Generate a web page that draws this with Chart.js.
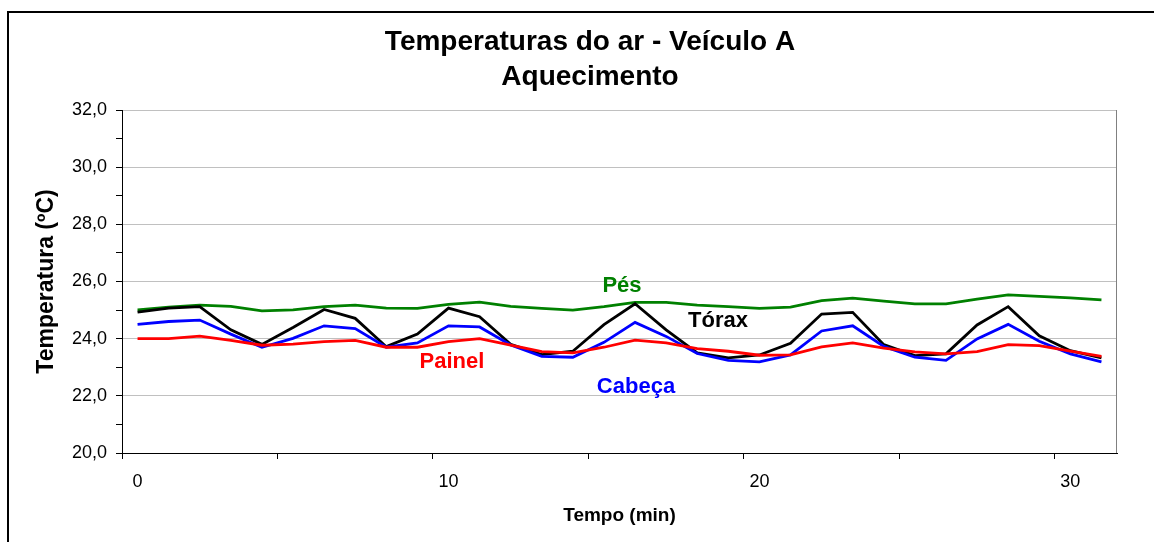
<!DOCTYPE html>
<html lang="pt">
<head>
<meta charset="utf-8">
<title>Temperaturas do ar - Veículo A</title>
<script src="https://cdn.jsdelivr.net/npm/chart.js@4.4.1/dist/chart.umd.min.js"></script>
<style>
  html, body { margin: 0; padding: 0; background: #fff; }
  #caixa { position: relative; width: 1154px; height: 542px; }
</style>
</head>
<body>
<div id="caixa"><canvas id="grafico"></canvas></div>
<script>
// Tempo (min): um ponto por minuto, eixo de categorias como no Excel
var tempos   = [0, 1, 2, 3, 4, 5, 6, 7, 8, 9, 10, 11, 12, 13, 14, 15,
                16, 17, 18, 19, 20, 21, 22, 23, 24, 25, 26, 27, 28, 29, 30, 31];
var rotulosX = [0, 10, 20, 30];
var rotulosY = ["20,0", "22,0", "24,0", "26,0", "28,0", "30,0", "32,0"];

// Temperaturas (ºC)
var painel = [24.00, 24.00, 24.09, 23.94, 23.77, 23.81, 23.90, 23.94, 23.70, 23.70, 23.90,
              24.00, 23.77, 23.55, 23.50, 23.70, 23.95, 23.85, 23.65, 23.56, 23.42,
              23.43, 23.71, 23.85, 23.67, 23.54, 23.47, 23.55, 23.79, 23.76, 23.56, 23.38];
var cabeca = [24.50, 24.60, 24.65, 24.16, 23.70, 24.01, 24.45, 24.35, 23.70, 23.85, 24.45,
              24.41, 23.78, 23.38, 23.35, 23.87, 24.57, 24.08, 23.48, 23.24, 23.19,
              23.43, 24.27, 24.45, 23.73, 23.35, 23.24, 23.99, 24.50, 23.91, 23.47, 23.19];
var torax  = [24.93, 25.07, 25.12, 24.31, 23.80, 24.39, 25.02, 24.71, 23.72, 24.16, 25.07,
              24.77, 23.80, 23.44, 23.56, 24.49, 25.22, 24.31, 23.50, 23.33, 23.43,
              23.84, 24.86, 24.92, 23.79, 23.41, 23.47, 24.48, 25.12, 24.10, 23.58, 23.33];
var pes    = [25.01, 25.10, 25.17, 25.13, 24.97, 25.01, 25.12, 25.17, 25.07, 25.06, 25.20,
              25.28, 25.13, 25.06, 25.00, 25.12, 25.27, 25.27, 25.17, 25.12, 25.06,
              25.10, 25.33, 25.42, 25.31, 25.22, 25.22, 25.38, 25.53, 25.48, 25.43, 25.36];

var fonte = "'Liberation Sans', Arial, Helvetica, sans-serif";
Chart.defaults.font.family = fonte;
Chart.defaults.color = "#000";

// Título, moldura externa, borda direita da área e rótulos das séries
var textos = {
  id: "textos",
  afterDraw: function (chart, args, opts) {
    var ctx = chart.ctx;
    var area = chart.chartArea;
    var sx = chart.scales.x, sy = chart.scales.y;
    ctx.save();

    ctx.strokeStyle = "#000";
    ctx.lineWidth = 2;
    ctx.beginPath();
    ctx.moveTo(8, chart.height);
    ctx.lineTo(8, 12);
    ctx.lineTo(chart.width, 12);
    ctx.stroke();

    ctx.strokeStyle = "#808080";
    ctx.lineWidth = 1;
    ctx.beginPath();
    ctx.moveTo(Math.round(area.right) - 0.5, area.top);
    ctx.lineTo(Math.round(area.right) - 0.5, area.bottom);
    ctx.stroke();

    ctx.fillStyle = "#000";
    ctx.textAlign = "center";
    ctx.textBaseline = "middle";
    ctx.font = "bold 28px " + fonte;
    opts.titulo.forEach(function (linha, i) {
      ctx.fillText(linha, opts.tituloX, opts.tituloY[i]);
    });

    ctx.font = "bold 22px " + fonte;
    opts.notas.forEach(function (n) {
      ctx.fillStyle = n.cor;
      ctx.fillText(n.texto, sx.getPixelForValue(n.x), sy.getPixelForValue(n.y));
    });
    ctx.restore();
  }
};

function serie(rotulo, dados, cor) {
  return {
    label: rotulo,
    data: dados,
    borderColor: cor,
    backgroundColor: cor,
    borderWidth: 2.8,
    pointRadius: 0,
    pointHoverRadius: 0,
    tension: 0,
    fill: false
  };
}

new Chart(document.getElementById("grafico"), {
  type: "line",
  data: {
    labels: tempos,
    datasets: [
      serie("Painel", painel, "#ff0000"),
      serie("Cabeça", cabeca, "#0000ff"),
      serie("Tórax", torax, "#000000"),
      serie("Pés", pes, "#008000")
    ]
  },
  plugins: [textos],
  options: {
    responsive: true,
    maintainAspectRatio: false,
    animation: false,
    events: [],
    layout: { padding: { left: 8, right: 37, top: 110, bottom: 0 } },
    plugins: {
      legend: { display: false },
      title: { display: false },
      tooltip: { enabled: false },
      textos: {
        titulo: ["Temperaturas do ar - Veículo A", "Aquecimento"],
        tituloX: 590,
        tituloY: [42, 77],
        notas: [
          { texto: "Pés",    cor: "#008000", x: 15.58, y: 25.85 },
          { texto: "Tórax",  cor: "#000000", x: 18.67, y: 24.63 },
          { texto: "Painel", cor: "#ff0000", x: 10.11, y: 23.19 },
          { texto: "Cabeça", cor: "#0000ff", x: 16.03, y: 22.32 }
        ]
      }
    },
    scales: {
      x: {
        type: "category",
        offset: true,
        afterFit: function (scale) { scale.height = 89; },
        grid: {
          offset: true,
          drawOnChartArea: false,
          tickLength: 6,
          tickColor: function (c) {
            return (c.index !== undefined && c.index % 5 === 0) ? "#000" : "rgba(0,0,0,0)";
          }
        },
        border: { color: "#000", width: 1 },
        ticks: {
          autoSkip: false,
          maxRotation: 0,
          padding: 12,
          color: "#000",
          font: { size: 18 },
          callback: function (v, i) {
            return rotulosX.indexOf(tempos[i]) >= 0 ? String(tempos[i]) : "";
          }
        },
        title: {
          display: true,
          text: "Tempo (min)",
          color: "#000",
          font: { size: 19, weight: "bold" },
          padding: { top: 0, bottom: 14.6 }
        }
      },
      y: {
        min: 20,
        max: 32,
        afterFit: function (scale) { scale.width = 114; },
        grid: {
          tickLength: 6,
          tickColor: "#000",
          color: function (c) {
            var v = c.tick ? c.tick.value : 0;
            return (v % 2 === 0 && v !== 20) ? "#c0c0c0" : "rgba(0,0,0,0)";
          }
        },
        border: { color: "#000", width: 1 },
        ticks: {
          stepSize: 1,
          padding: 9,
          color: "#000",
          font: { size: 18 },
          callback: function (v) {
            return v % 2 === 0 ? rotulosY[(v - 20) / 2] : "";
          }
        },
        title: {
          display: true,
          text: "Temperatura (ºC)",
          color: "#000",
          font: { size: 23, weight: "bold" },
          padding: { top: 25, bottom: 0 }
        }
      }
    }
  }
});
</script>
</body>
</html>
